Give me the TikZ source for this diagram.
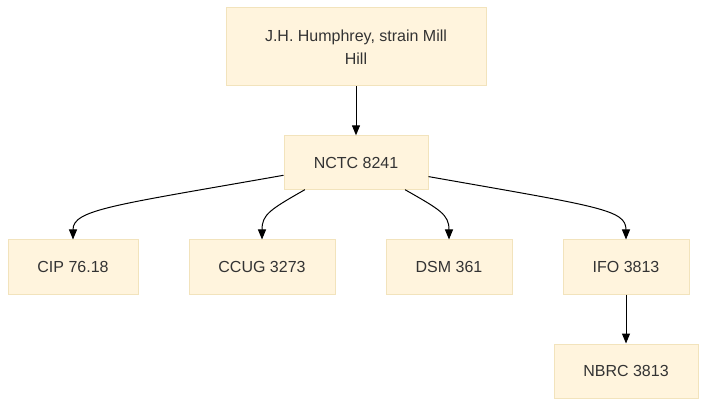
\documentclass[tikz,border=0pt]{standalone}
\usepackage{fontspec}
\setmainfont{Liberation Sans}
\usetikzlibrary{arrows.meta}
\definecolor{boxfill}{HTML}{FFF4DD}
\definecolor{boxline}{HTML}{F2E3BC}
\definecolor{txt}{HTML}{333333}
\begin{document}
\begin{tikzpicture}[x=0.75pt,y=-0.75pt,
  box/.style={draw=boxline,fill=boxfill,line width=0.75pt,text=txt,font=\fontsize{12}{17}\selectfont,align=center,inner sep=0pt},
  arr/.style={draw=black,line width=0.75pt,-{Triangle[length=7.5pt,width=6pt]}}]
\useasboundingbox (0,0) rectangle (707,406);
\node[box,minimum width=195pt,minimum height=58.5pt] (top) at (356,47) {J.H. Humphrey, strain Mill\\Hill};
\node[box,minimum width=108pt,minimum height=40pt] (nctc) at (356,162.5) {NCTC 8241};
\node[box,minimum width=97.5pt,minimum height=40.5pt] (cip) at (73,267) {CIP 76.18};
\node[box,minimum width=109.5pt,minimum height=40.5pt] (ccug) at (262,267) {CCUG 3273};
\node[box,minimum width=94.5pt,minimum height=40.5pt] (dsm) at (449,267) {DSM 361};
\node[box,minimum width=94.5pt,minimum height=40.5pt] (ifo) at (626,267) {IFO 3813};
\node[box,minimum width=108pt,minimum height=40.5pt] (nbrc) at (626,371) {NBRC 3813};
\draw[arr] (top) -- (nctc);
\draw[arr] (nctc.190.6) .. controls +(-170,30) and +(0,-30) .. (cip.north);
\draw[arr] (nctc.208.4) .. controls +(-35,20) and +(0,-25) .. (ccug.north);
\draw[arr] (nctc.331.6) .. controls +(35,20) and +(0,-25) .. (dsm.north);
\draw[arr] (nctc.349.4) .. controls +(170,30) and +(0,-30) .. (ifo.north);
\draw[arr] (ifo) -- (nbrc);
\end{tikzpicture}
\end{document}
